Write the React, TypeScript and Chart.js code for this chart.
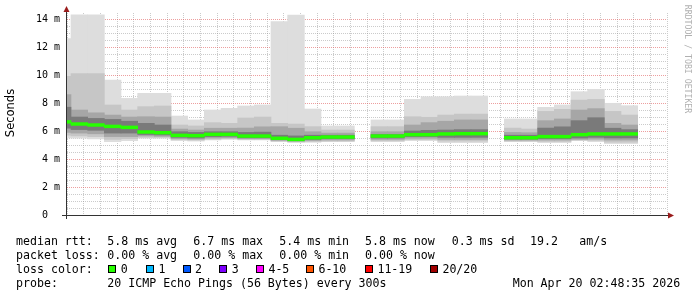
import React, { useEffect, useRef } from 'react';
import { Chart, registerables } from 'chart.js';

Chart.register(...registerables);

// 5-minute bins, start time in minutes relative to 00:00
const binStart = [-15, -10, -5, 0, 5, 10, 15, 20, 25, 30, 35, 40, 45, 50, 55, 60, 65, 70, 75, 80, 85, 90, 95, 100, 105, 110, 115, 120, 125, 130, 135, 140, 145, 150, 155];
const binMinutes = 5;

// RTT in ms (sorted-ping quantile envelopes), null = no data
const pingMax = [12.6, 14.3, 14.3, 9.64, 8.33, 8.69, 8.69, 7.07, 6.79, 7.5, 7.62, 7.79, 7.86, 13.81, 14.29, 7.57, 6.36, 6.36, null, 6.79, 6.79, 8.26, 8.45, 8.45, 8.5, 8.5, null, 6.86, 6.86, 7.69, 7.86, 8.81, 8.98, 7.98, 7.81];
const pingHi1 = [9.9, 10.1, 10.1, 7.86, 7.5, 7.74, 7.79, 6.43, 6.36, 6.6, 6.55, 6.93, 7.0, 6.55, 6.5, 6.31, 6.07, 6.07, null, 6.31, 6.31, 7.02, 6.98, 7.14, 7.21, 7.21, null, 6.21, 6.14, 7.4, 7.55, 8.21, 8.26, 7.4, 7.14];
const pingHi2 = [8.6, 7.5, 7.3, 7.14, 7.0, 7.02, 7.0, 6.14, 6.07, 6.2, 6.2, 6.21, 6.3, 6.31, 6.2, 5.95, 5.85, 5.85, null, 5.95, 5.95, 6.43, 6.6, 6.7, 6.79, 6.79, null, 5.9, 5.88, 6.74, 6.86, 7.5, 7.6, 6.55, 6.43];
const pingHi3 = [7.7, 7.0, 6.9, 6.83, 6.7, 6.55, 6.43, 5.95, 5.9, 5.95, 5.95, 5.9, 5.92, 5.7, 5.65, 5.7, 5.7, 5.7, null, 5.75, 5.75, 6.0, 6.05, 6.07, 6.1, 6.1, null, 5.7, 5.7, 6.21, 6.3, 6.74, 6.95, 6.2, 6.1];
const median = [6.65, 6.5, 6.43, 6.33, 6.26, 5.93, 5.88, 5.69, 5.67, 5.76, 5.76, 5.64, 5.64, 5.48, 5.4, 5.52, 5.57, 5.57, null, 5.64, 5.64, 5.74, 5.74, 5.79, 5.81, 5.81, null, 5.52, 5.52, 5.6, 5.6, 5.74, 5.79, 5.79, 5.79];
const pingLo3 = [6.2, 6.1, 6.05, 5.85, 5.85, 5.75, 5.72, 5.55, 5.5, 5.6, 5.62, 5.52, 5.52, 5.4, 5.33, 5.4, 5.45, 5.45, null, 5.5, 5.5, 5.6, 5.6, 5.55, 5.55, 5.55, null, 5.42, 5.42, 5.45, 5.45, 5.5, 5.55, 5.5, 5.5];
const pingLo2 = [5.9, 5.85, 5.8, 5.6, 5.6, 5.65, 5.62, 5.45, 5.42, 5.5, 5.52, 5.45, 5.45, 5.33, 5.27, 5.32, 5.36, 5.36, null, 5.4, 5.4, 5.48, 5.48, 5.4, 5.4, 5.4, null, 5.35, 5.35, 5.35, 5.35, 5.4, 5.42, 5.35, 5.35];
const pingLo1 = [5.7, 5.65, 5.6, 5.4, 5.45, 5.55, 5.55, 5.38, 5.35, 5.42, 5.45, 5.4, 5.4, 5.28, 5.22, 5.25, 5.28, 5.28, null, 5.3, 5.3, 5.38, 5.38, 5.28, 5.28, 5.28, null, 5.28, 5.28, 5.25, 5.25, 5.35, 5.33, 5.2, 5.2];
const pingMin = [5.5, 5.48, 5.43, 5.24, 5.31, 5.48, 5.48, 5.31, 5.28, 5.36, 5.4, 5.36, 5.36, 5.24, 5.19, 5.19, 5.24, 5.24, null, 5.24, 5.24, 5.31, 5.31, 5.17, 5.17, 5.17, null, 5.24, 5.24, 5.17, 5.17, 5.31, 5.24, 5.1, 5.1];

// axis range (minutes relative to 00:00) and labels
const xRangeStart = -11.2;
const xRangeEnd = 168.8;
const yRangeMax = 14.43;
const yLabelStep = 2;
const xLabelStep = 20;

// legend texts
const yTitle = 'Seconds';
const watermark = 'RRDTOOL / TOBI OETIKER';
const medianHead = 'median rtt:';
const medianStats = ['5.8 ms avg', '6.7 ms max', '5.4 ms min', '5.8 ms now', '0.3 ms sd', '19.2', 'am/s'];
const lossHead = 'packet loss:';
const lossStats = ['0.00 % avg', '0.00 % max', '0.00 % min', '0.00 % now'];
const colorHead = 'loss color:';
const lossLabels = ['0', '1', '2', '3', '4-5', '6-10', '11-19', '20/20'];
const lossColors = ['#26ff00', '#00b8ff', '#0059ff', '#7e00ff', '#ff00ff', '#ff5500', '#ff0000', '#a10000'];
const probeHead = 'probe:';
const probeText = '20 ICMP Echo Pings (56 Bytes) every 300s';
const stampText = 'Mon Apr 20 02:48:35 2026';

const MONO = '"DejaVu Sans Mono", monospace';

function fmtTime(v: number) {
  const m = ((Math.round(v) % 1440) + 1440) % 1440;
  const h = Math.floor(m / 60);
  const mm = m % 60;
  return String(h).padStart(2, '0') + ':' + String(mm).padStart(2, '0');
}

export default function App() {
  const ref = useRef<HTMLCanvasElement>(null);

  useEffect(() => {
    const canvas = ref.current;
    if (!canvas) return;

    const layer = (lo: (number | null)[], hi: (number | null)[]) =>
      binStart
        .map((s, i) => (lo[i] == null || hi[i] == null ? null : { x: s + binMinutes / 2, y: [lo[i], hi[i]] }))
        .filter(Boolean) as any[];

    const medHalf = 0.1;
    const medianData = binStart
      .map((s, i) => (median[i] == null ? null : { x: s + binMinutes / 2, y: [(median[i] as number) - medHalf, (median[i] as number) + medHalf] }))
      .filter(Boolean) as any[];

    const decor = {
      id: 'decor',
      afterDraw(chart: any) {
        const ctx = chart.ctx as CanvasRenderingContext2D;
        const a = chart.chartArea;
        ctx.save();
        // axes
        ctx.strokeStyle = '#333333';
        ctx.lineWidth = 1;
        ctx.beginPath();
        ctx.moveTo(a.left - 0.5, a.bottom + 4);
        ctx.lineTo(a.left - 0.5, a.top - 4);
        ctx.moveTo(a.left - 5, a.bottom + 0.5);
        ctx.lineTo(a.right + 3, a.bottom + 0.5);
        ctx.stroke();
        // arrows
        ctx.fillStyle = '#9a1c1c';
        ctx.beginPath();
        ctx.moveTo(a.left - 0.5, a.top - 7);
        ctx.lineTo(a.left - 3.5, a.top - 1);
        ctx.lineTo(a.left + 2.5, a.top - 1);
        ctx.closePath();
        ctx.fill();
        ctx.beginPath();
        ctx.moveTo(a.right + 7, a.bottom + 0.5);
        ctx.lineTo(a.right + 1, a.bottom - 2.5);
        ctx.lineTo(a.right + 1, a.bottom + 3.5);
        ctx.closePath();
        ctx.fill();

        // y title
        ctx.fillStyle = '#000';
        ctx.font = '11.5px "DejaVu Sans", sans-serif';
        ctx.save();
        ctx.translate(11, 113);
        ctx.rotate(-Math.PI / 2);
        ctx.textAlign = 'center';
        ctx.textBaseline = 'middle';
        ctx.fillText(yTitle, 0, 0);
        ctx.restore();

        // watermark
        ctx.save();
        ctx.fillStyle = '#b0b0b0';
        ctx.font = '8.2px ' + MONO;
        ctx.translate(687.5, 59);
        ctx.rotate(Math.PI / 2);
        ctx.textAlign = 'center';
        ctx.textBaseline = 'middle';
        ctx.fillText(watermark, 0, 0);
        ctx.restore();

        // legend
        ctx.font = '11.6px ' + MONO;
        ctx.fillStyle = '#000';
        ctx.textAlign = 'left';
        ctx.textBaseline = 'alphabetic';
        const statX = [107.3, 193.3, 279.3, 365, 451.7, 530, 579.3];
        ctx.fillText(medianHead, 16, 245);
        medianStats.forEach((t, i) => ctx.fillText(t, statX[i], 245));
        ctx.fillText(lossHead, 16, 259);
        lossStats.forEach((t, i) => ctx.fillText(t, statX[i], 259));
        ctx.fillText(colorHead, 16, 273);
        const boxX = [108.3, 146, 182.7, 219.3, 256, 306, 365, 430];
        lossLabels.forEach((t, i) => {
          const bx = Math.round(boxX[i]);
          ctx.fillStyle = lossColors[i];
          ctx.fillRect(bx, 265, 8, 8);
          ctx.strokeStyle = '#000';
          ctx.strokeRect(bx + 0.5, 265.5, 7, 7);
          ctx.fillStyle = '#000';
          ctx.fillText(t, boxX[i] + 12.4, 273);
        });
        ctx.fillText(probeHead, 16, 287);
        ctx.fillText(probeText, 107.3, 287);
        ctx.fillText(stampText, 512.7, 287);
        ctx.restore();
      },
    };

    const isMult = (v: number, s: number) => Math.abs(v / s - Math.round(v / s)) < 1e-6;
    const majorColor = 'rgba(222,80,80,0.55)';
    const minorColor = 'rgba(140,140,140,0.45)';
    const tickFont = { family: MONO, size: 10 };

    const chart = new Chart(canvas, {
      type: 'bar',
      data: {
        datasets: [
          { label: 'median', data: medianData, backgroundColor: '#26ff00', order: 0 },
          { label: 'smoke4', data: layer(pingLo3, pingHi3), backgroundColor: '#7a7a7a', order: 1 },
          { label: 'smoke3', data: layer(pingLo2, pingHi2), backgroundColor: '#a6a6a6', order: 2 },
          { label: 'smoke2', data: layer(pingLo1, pingHi1), backgroundColor: '#c6c6c6', order: 3 },
          { label: 'smoke1', data: layer(pingMin, pingMax), backgroundColor: '#dddddd', order: 4 },
        ] as any,
      },
      options: {
        animation: false,
        responsive: false,
        events: [],
        layout: { padding: { left: 0, right: 30, top: 13, bottom: 0 } },
        plugins: { legend: { display: false }, tooltip: { enabled: false }, title: { display: false } },
        datasets: {
          bar: { barPercentage: 1, categoryPercentage: 1, grouped: false, borderWidth: 0, clip: 0 } as any,
        },
        scales: {
          x: {
            type: 'linear',
            min: xRangeStart,
            max: xRangeEnd,
            offset: false,
            z: 1,
            grid: {
              offset: false,
              drawTicks: false,
              lineWidth: 1,
              color: (c: any) => (c.tick && isMult(c.tick.value, xLabelStep) ? majorColor : minorColor),
            },
            border: { display: false, dash: [1, 1] },
            ticks: {
              stepSize: binMinutes,
              autoSkip: false,
              includeBounds: false,
              maxRotation: 0,
              minRotation: 0,
              padding: 3,
              color: '#000',
              font: tickFont,
              callback: (v: any) => (isMult(Number(v), xLabelStep) ? fmtTime(Number(v)) : ''),
            },
            afterFit: (s: any) => {
              s.height = 82;
            },
          } as any,
          y: {
            type: 'linear',
            min: 0,
            max: yRangeMax,
            z: 1,
            grid: {
              drawTicks: false,
              lineWidth: 1,
              color: (c: any) => (c.tick && isMult(c.tick.value, yLabelStep) ? majorColor : minorColor),
            },
            border: { display: false, dash: [1, 1] },
            ticks: {
              stepSize: 0.5,
              autoSkip: false,
              includeBounds: false,
              padding: 7,
              color: '#000',
              font: tickFont,
              callback: (v: any) => {
                const n = Number(v);
                if (!isMult(n, yLabelStep)) return '';
                return n === 0 ? '0  ' : `${Math.round(n)} m`;
              },
            },
            afterFit: (s: any) => {
              s.width = 67;
            },
          } as any,
        },
      },
      plugins: [decor],
    });

    return () => chart.destroy();
  }, []);

  return (
    <div style={{ position: 'absolute', left: 0, top: 0, width: 697, height: 297, background: '#fff' }}>
      <canvas ref={ref} width={697} height={297} style={{ display: 'block', width: 697, height: 297 }} />
    </div>
  );
}
